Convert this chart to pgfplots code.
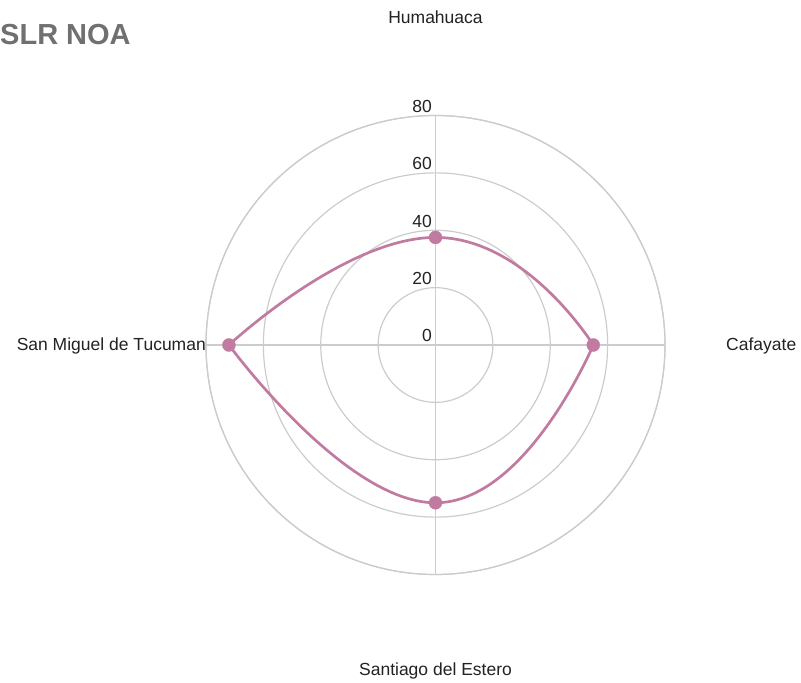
\documentclass[border=0pt]{standalone}
\usepackage{fontspec}
\setmainfont{Liberation Sans}
\usepackage{pgfplots}
\pgfplotsset{compat=1.18}
\usepgfplotslibrary{polar}
\definecolor{series}{HTML}{C27BA0}
\definecolor{gridc}{HTML}{CCCCCC}
\definecolor{txt}{HTML}{222222}
\definecolor{ttl}{HTML}{707070}
\begin{document}
\begin{tikzpicture}[x=1pt,y=1pt]
\path[use as bounding box] (0,0) rectangle (801,683);
\begin{polaraxis}[
  at={(435.5pt,338pt)}, anchor=center,
  scale only axis, width=459pt, height=459pt,
  xmin=0, xmax=360, ymin=0, ymax=80,
  xtick={0,90,180,270}, ytick={20,40,60,80},
  xticklabels={}, yticklabels={},
  grid=major, major grid style={gridc, line width=1.2pt},
  axis line style={gridc, line width=1.2pt},
  major tick length=0pt,
  clip=false,
]
\addplot[series, line width=2.7pt, smooth, tension=0.9, line join=round] coordinates {(180,72) (90,37.5) (0,55)};
\addplot[series, line width=2.7pt, smooth, tension=0.9, line join=round] coordinates {(360,55) (270,55) (180,72)};
\addplot[only marks, mark=*, mark size=6.5pt, mark options={fill=series, draw=series}] coordinates {(90,37.5) (0,55) (270,55) (180,72)};
\end{polaraxis}
\begin{scope}[every node/.style={inner sep=0pt, text=txt, font=\fontsize{17.5}{21}\selectfont}]
\node[anchor=base east] at (432,341) {0};
\node[anchor=base east] at (432,398.3) {20};
\node[anchor=base east] at (432,455.7) {40};
\node[anchor=base east] at (432,513) {60};
\node[anchor=base east] at (432,570.3) {80};
\node[anchor=base] at (435.5,659) {Humahuaca};
\node[anchor=base] at (435.5,7) {Santiago del Estero};
\node[anchor=base west] at (726,332.5) {Cafayate};
\node[anchor=base east] at (206,332) {San Miguel de Tucuman};
\end{scope}
\node[anchor=base west, inner sep=0pt, text=ttl, font=\fontsize{29}{33}\selectfont\bfseries] at (0,638) {SLR NOA};
\end{tikzpicture}
\end{document}
